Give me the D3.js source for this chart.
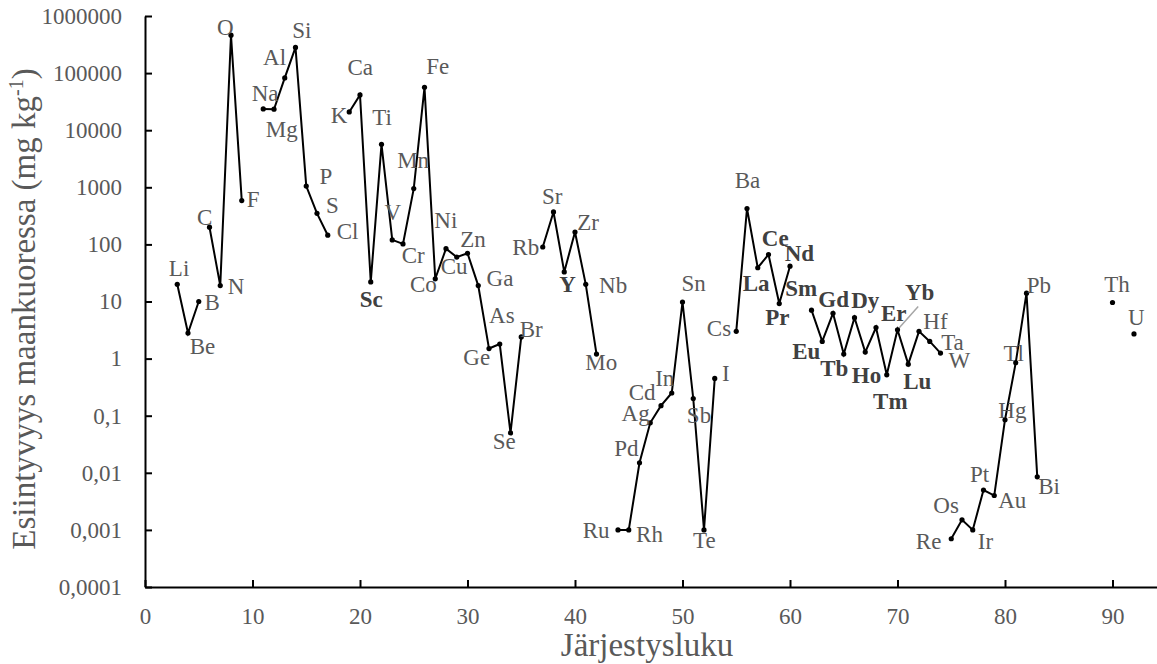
<!DOCTYPE html>
<html>
<head>
<meta charset="utf-8">
<script src="https://cdn.jsdelivr.net/npm/d3@7"></script>
<style>
  html, body { margin: 0; padding: 0; background: #fff; }
  svg { display: block; }
</style>
</head>
<body>
<svg id="chart" width="1157" height="664"></svg>
<script>
// Element symbols, atomic numbers and crustal abundances (mg/kg)
const symbols = ["Li","Be","B","C","N","O","F","Na","Mg","Al","Si","P","S","Cl",
  "K","Ca","Sc","Ti","V","Cr","Mn","Fe","Co","Ni","Cu","Zn","Ga","Ge","As","Se","Br",
  "Rb","Sr","Y","Zr","Nb","Mo","Ru","Rh","Pd","Ag","Cd","In","Sn","Sb","Te","I",
  "Cs","Ba","La","Ce","Pr","Nd","Sm","Eu","Gd","Tb","Dy","Ho","Er","Tm","Yb","Lu",
  "Hf","Ta","W","Re","Os","Ir","Pt","Au","Hg","Tl","Pb","Bi","Th","U"];
const atomicNumbers = [3,4,5,6,7,8,9,11,12,13,14,15,16,17,
  19,20,21,22,23,24,25,26,27,28,29,30,31,32,33,34,35,
  37,38,39,40,41,42,44,45,46,47,48,49,50,51,52,53,
  55,56,57,58,59,60,62,63,64,65,66,67,68,69,70,71,
  72,73,74,75,76,77,78,79,80,81,82,83,90,92];
const abundances = [20,2.8,10,200,19,461000,585,23600,23300,82300,282000,1050,350,145,
  20900,41500,22,5650,120,102,950,56300,25,84,60,70,19,1.5,1.8,0.05,2.4,
  90,370,33,165,20,1.2,0.001,0.001,0.015,0.075,0.15,0.25,9.8,0.2,0.001,0.45,
  3,425,39,66.5,9.2,41.5,7.05,2.0,6.2,1.2,5.2,1.3,3.5,0.52,3.2,0.8,
  3.0,2.0,1.25,0.0007,0.0015,0.001,0.005,0.004,0.085,0.85,14,0.0085,9.6,2.7];
// Elements that begin a new connected run of the line
const segmentStarts = ["Li","C","Na","K","Rb","Ru","Cs","Sm","Re","Th","U"];
// Rare earths (with Sc and Y) get bold labels
const boldLabels = ["Sc","Y","La","Ce","Pr","Nd","Sm","Eu","Gd","Tb","Dy","Ho","Er","Tm","Yb","Lu"];

const xTicks = [0,10,20,30,40,50,60,70,80,90];
const yTicks = [1e-4,1e-3,1e-2,1e-1,1,10,100,1000,10000,100000,1000000];
const yTickLabels = ["0,0001","0,001","0,01","0,1","1","10","100","1000","10000","100000","1000000"];
const xTitle = "Järjestysluku";
const yTitle = "Esiintyvyys maankuoressa (mg kg";

// Label placement: left edge / baseline offset from each point, in px
const labelOffset = {
  Li:[-8.4,-8.3], Be:[1.7,21], B:[5.7,8.3], C:[-12.4,-2.7], N:[7.6,8.3], O:[-14,0], F:[5,6.7],
  Na:[-11.6,-7.6], Mg:[-8.3,27.4], Al:[-21.7,-13.3], Si:[-3.3,-9.7], P:[13.3,-1.7], S:[9,0], Cl:[9,3.6],
  K:[-18.6,10.6], Ca:[-12.6,-19.7], Sc:[-11,25], Ti:[-9.3,-19.7], V:[-7.7,-20.3], Cr:[-1.3,18.7],
  Mn:[-16.6,-21], Fe:[1.7,-13.7], Co:[-25.3,13.4], Ni:[-11.7,-20.7], Cu:[-16,17.3], Zn:[-7.3,-6.6],
  Ga:[8.3,0], Ge:[-25.7,16], As:[-10.7,-20.7], Se:[-17.7,16], Br:[-1.6,0],
  Rb:[-30.4,7.7], Sr:[-11.6,-8], Y:[-5,20.6], Zr:[2.3,-1.6], Nb:[13.3,8.3], Mo:[-11.3,15.7],
  Ru:[-35.3,8], Rh:[7.3,12.4], Pd:[-25.3,-6.3], Ag:[-28.7,-1.6], Cd:[-32.3,-6], In:[-16.6,-6.6],
  Sn:[-1,-10.6], Sb:[-6.4,24.6], Te:[-11,18], I:[7.3,3],
  Cs:[-29.4,5], Ba:[-12.3,-20.7], La:[-15,23.4], Ce:[-6.7,-8.3], Pr:[-14,21], Nd:[-5.3,-5.7],
  Sm:[-26.3,-14], Eu:[-30,17.6], Gd:[-14.7,-6.4], Tb:[-23.6,22.3], Dy:[-3.3,-10], Ho:[-13.4,31],
  Er:[5,-7], Tm:[-13.7,34], Yb:[7.4,-29.3], Lu:[-5,25.3], Hf:[4.3,-2.7], Ta:[11.4,8.3], W:[8,14.6],
  Re:[-35.4,10], Os:[-28.7,-6.7], Ir:[5,19], Pt:[-13.6,-8.3], Au:[4,12.3], Hg:[-6.7,-1.7],
  Tl:[-12.3,-2], Pb:[0.3,0], Bi:[1,17], Th:[-8.3,-10.3], U:[-6,-9.3]
};
// Leader lines from a point towards its label
const leaders = { Yb:[20.7,-23.3] };

const FONT = "'Liberation Serif','Times New Roman',Times,serif";
const svg = d3.select("#chart");

const x = d3.scaleLinear().domain([0, 100]).range([145, 1220]);
const y = d3.scaleLog().domain([1e-4, 1e6]).range([587, 16]);

const points = symbols.map((s, i) => ({ sym: s, z: atomicNumbers[i], v: abundances[i] }));

// Split into connected runs
const runs = [];
points.forEach(p => {
  if (segmentStarts.includes(p.sym) || runs.length === 0) runs.push([]);
  runs[runs.length - 1].push(p);
});

// Axes
const xAxis = d3.axisBottom(x).tickValues(xTicks).tickFormat(d3.format("d"))
  .tickSizeInner(-7).tickSizeOuter(0).tickPadding(0);
const gx = svg.append("g").attr("transform", `translate(0,${y(1e-4)})`).call(xAxis);
gx.selectAll("text").attr("y", 36.5).attr("dy", 0);

const yAxis = d3.axisLeft(y).tickValues(yTicks).tickFormat((d, i) => yTickLabels[i])
  .tickSizeInner(-7).tickSizeOuter(0).tickPadding(23);
const gy = svg.append("g").attr("transform", `translate(${x(0)},0)`).call(yAxis);

[gx, gy].forEach(g => {
  g.select(".domain").attr("stroke", "#000").attr("stroke-width", 2);
  g.selectAll(".tick line").attr("stroke", "#000").attr("stroke-width", 2);
  g.selectAll("text").attr("font-family", FONT).attr("font-size", 23).attr("fill", "#595959");
});

// Lines
const line = d3.line().x(d => x(d.z)).y(d => y(d.v));
svg.append("g").selectAll("path").data(runs.filter(r => r.length > 1)).join("path")
  .attr("d", line).attr("fill", "none").attr("stroke", "#000")
  .attr("stroke-width", 2).attr("stroke-linejoin", "miter");

// Leader lines
svg.append("g").selectAll("line").data(points.filter(p => leaders[p.sym])).join("line")
  .attr("x1", d => x(d.z)).attr("y1", d => y(d.v))
  .attr("x2", d => x(d.z) + leaders[d.sym][0]).attr("y2", d => y(d.v) + leaders[d.sym][1])
  .attr("stroke", "#a6a6a6").attr("stroke-width", 1.5);

// Markers
svg.append("g").selectAll("circle").data(points).join("circle")
  .attr("cx", d => x(d.z)).attr("cy", d => y(d.v)).attr("r", 2.6).attr("fill", "#000");

// Element labels
svg.append("g").selectAll("text").data(points).join("text")
  .attr("x", d => x(d.z) + labelOffset[d.sym][0])
  .attr("y", d => y(d.v) + labelOffset[d.sym][1])
  .attr("font-family", FONT).attr("font-size", 23)
  .attr("font-weight", d => boldLabels.includes(d.sym) ? "bold" : "normal")
  .attr("fill", d => boldLabels.includes(d.sym) ? "#404040" : "#595959")
  .text(d => d.sym);

// Axis titles
svg.append("text").attr("x", 647).attr("y", 656).attr("text-anchor", "middle")
  .attr("font-family", FONT).attr("font-size", 33).attr("fill", "#595959").text(xTitle);

const yt = svg.append("text").attr("transform", "translate(35,309) rotate(-90)")
  .attr("text-anchor", "middle").attr("font-family", FONT).attr("font-size", 33).attr("fill", "#595959");
yt.append("tspan").text(yTitle);
yt.append("tspan").attr("font-size", 20).attr("dy", -12).text("-1");
yt.append("tspan").attr("dy", 12).text(")");
</script>
</body>
</html>
